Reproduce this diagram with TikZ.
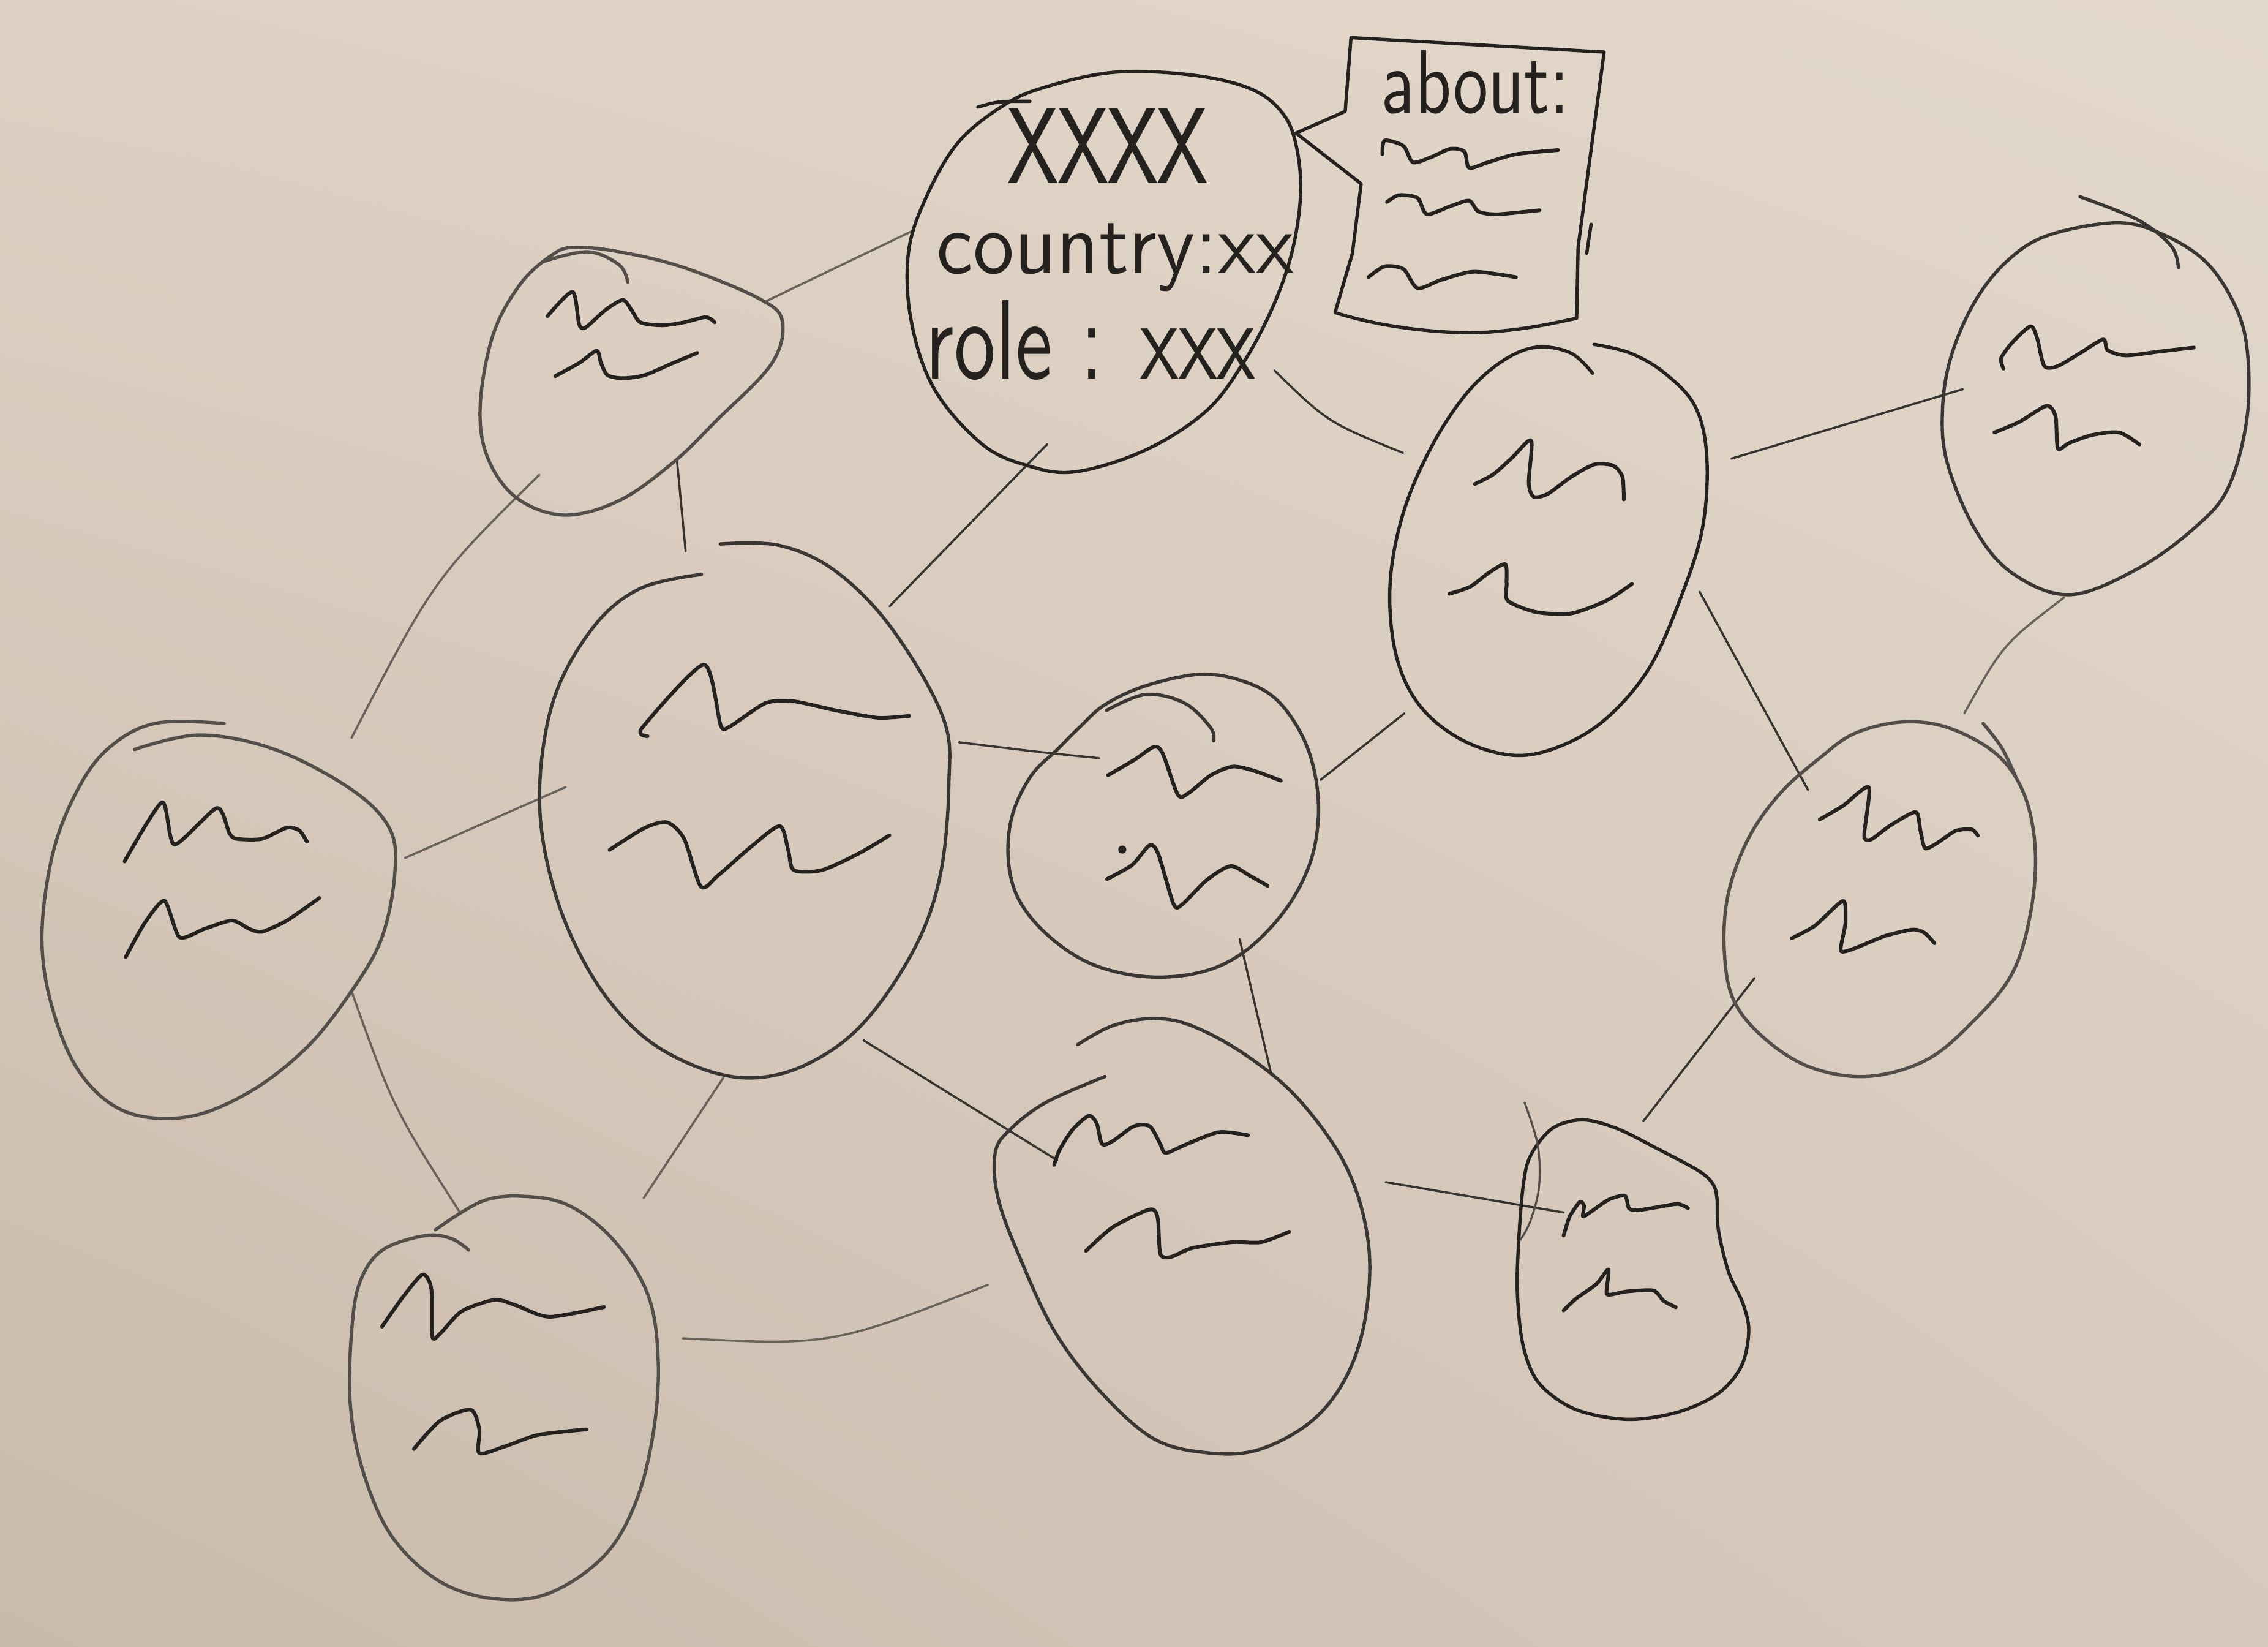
\documentclass[tikz,border=0pt]{standalone}
\usepackage{fontspec}
\setmainfont{Liberation Sans}
\usetikzlibrary{calc,shapes.geometric,shadings}
\definecolor{paperUL}{RGB}{222,209,195}
\definecolor{paperUR}{RGB}{227,216,204}
\definecolor{paperLL}{RGB}{201,186,171}
\definecolor{paperLR}{RGB}{215,202,189}
\definecolor{inkdark}{RGB}{36,33,31}
\definecolor{inkmid}{RGB}{58,54,51}
\definecolor{inklight}{RGB}{84,78,74}
\definecolor{edgedarkc}{RGB}{55,51,48}
\definecolor{edgelightc}{RGB}{105,97,91}
\begin{document}
\begin{tikzpicture}[x=0.02cm,y=-0.02cm,
  outl/.style={draw=#1, line width=1.3pt, line cap=round, line join=round},
  squig/.style={draw=inkdark, line width=1.45pt, line cap=round, line join=round},
  edgeline/.style={draw=#1, line width=0.85pt, line cap=round},
  hub/.style={ellipse, inner sep=0pt, draw=none},
  hand/.style={inner sep=0pt, text=inkdark, font=\sffamily}
]
\shade[upper left=paperUL, upper right=paperUR, lower left=paperLL, lower right=paperLR] (0,0) rectangle (1568,1138);
\useasboundingbox (0,0) rectangle (1568,1138);

% ---------- hub nodes (names for connectors) ----------
\node[hub, minimum width=5.3cm, minimum height=5.5cm] (n1) at (763,188) {};
\node[hub, minimum width=4.2cm, minimum height=3.7cm] (n3) at (437,265) {};
\node[hub, minimum width=5.7cm, minimum height=7.4cm] (n4) at (513,560) {};
\node[hub, minimum width=4.9cm, minimum height=5.6cm] (n5) at (150,637) {};
\node[hub, minimum width=4.3cm, minimum height=5.6cm] (n6) at (348,965) {};
\node[hub, minimum width=4.3cm, minimum height=4.2cm] (n7) at (803,570) {};
\node[hub, minimum width=5.1cm, minimum height=6.0cm] (n8) at (815,855) {};
\node[hub, minimum width=4.4cm, minimum height=5.6cm] (n9) at (1070,380) {};
\node[hub, minimum width=4.3cm, minimum height=5.2cm] (n10) at (1447,282) {};
\node[hub, minimum width=4.3cm, minimum height=4.9cm] (n11) at (1298,620) {};
\node[hub, minimum width=3.2cm, minimum height=4.1cm] (n12) at (1128,877) {};
\node[hub, minimum width=3.5cm, minimum height=4.0cm] (aboutbox) at (1015,128) {};

% ---------- connectors ----------
\draw[edgeline=edgelightc] ($(n3)+(93,-57)$) -- ($(n1)+(-133,-28)$);
\draw[edgeline=edgedarkc] ($(n3)+(31,53)$) -- ($(n4)+(-39,-179)$);
\draw[edgeline=edgelightc] ($(n3)+(-64,63)$) .. controls (300,400) .. ($(n5)+(93,-127)$);
\draw[edgeline=edgedarkc] ($(n1)+(-39,119)$) -- ($(n4)+(102,-141)$);
\draw[edgeline=edgedarkc] ($(n1)+(118,68)$) .. controls (918,292) .. ($(n9)+(-100,-67)$);
\draw[edgeline=edgelightc] ($(n4)+(-122,-16)$) -- ($(n5)+(130,-44)$);
\draw[edgeline=edgedarkc] ($(n4)+(150,-47)$) .. controls (720,520) .. ($(n7)+(-43,-46)$);
\draw[edgeline=edgedarkc] ($(n4)+(84,159)$) -- ($(n8)+(-84,-53)$);
\draw[edgeline=edgelightc] ($(n4)+(-13,185)$) -- ($(n6)+(97,-137)$);
\draw[edgeline=edgelightc] ($(n5)+(93,48)$) .. controls (272,766) .. ($(n6)+(-30,-127)$);
\draw[edgeline=edgelightc] ($(n6)+(124,-40)$) .. controls (575,930) .. ($(n8)+(-132,33)$);
\draw[edgeline=edgedarkc] ($(n7)+(110,-31)$) -- ($(n9)+(-99,113)$);
\draw[edgeline=edgedarkc] ($(n7)+(54,79)$) -- ($(n8)+(64,-112)$);
\draw[edgeline=edgedarkc] ($(n8)+(143,-38)$) -- ($(n12)+(-47,-39)$);
\draw[edgeline=edgedarkc] ($(n9)+(127,-63)$) -- ($(n10)+(-90,-13)$);
\draw[edgeline=edgedarkc] ($(n9)+(105,29)$) -- ($(n11)+(-48,-74)$);
\draw[edgeline=edgelightc] ($(n10)+(-20,131)$) .. controls (1385,445) .. ($(n11)+(60,-127)$);
\draw[edgeline=edgedarkc] ($(n11)+(-85,56)$) -- ($(n12)+(8,-102)$);

% ---------- node 1 (profile) ----------
\draw[outl=inkdark] plot[smooth cycle, tension=0.6] coordinates {(720,61)(770,50)(825,52)(866,62)(888,80)(897,105)(899,137)(893,175)(880,212)(860,250)(834,284)(792,311)(744,326)(711,322)(679,307)(646,269)(630,222)(628,175)(640,137)(662,99)(692,74)};
\draw[outl=inkdark] (676,74) .. controls (690,70) .. (712,70);
\node[hand] (t1) at (766,101) {\resizebox{2.76cm}{1.04cm}{xxxx}};
\node[hand] (t2) at (771,178) {\resizebox*{4.94cm}{0.94cm}{country:xx}};
\node[hand] (t3) at (754,235) {\resizebox*{4.56cm}{1.1cm}{role : xxx}};

% ---------- about box ----------
\coordinate (ptip) at (896,92);
\draw[outl=inkdark] (1090,220) -- (1091,171) -- (1109,36) -- (934,26) -- (930,77) -- (ptip) -- (941,127) -- (935,175) -- (923,216) .. controls (960,228) and (1010,232) .. (1035,229) .. controls (1060,227) and (1080,222) .. (1090,220);
\draw[outl=inkdark] (1100,155) -- (1097,175);
\node[hand] (t4) at (1020,57) {\resizebox*{2.6cm}{0.88cm}{about:}};
\draw[squig] plot[smooth,tension=0.45] coordinates {(955.7,106.6)(957.3,97.1)(970.3,100.9)(976.8,112.2)(989.7,108.5)(1002.7,102.8)(1012.4,104.7)(1015.7,116.0)(1028.6,112.2)(1048.1,106.6)(1077.2,103.7)};
\draw[squig] plot[smooth,tension=0.45] coordinates {(958.9,139.6)(967.1,134.9)(980.0,136.8)(986.5,148.1)(1002.7,142.5)(1015.7,138.7)(1022.1,146.2)(1035.1,148.1)(1064.3,145.3)};
\draw[squig] plot[smooth,tension=0.45] coordinates {(946.0,191.6)(957.3,184.1)(970.3,186.0)(980.0,199.2)(996.2,193.5)(1018.9,187.8)(1048.1,191.6)};

% ---------- node 3 ----------
\draw[outl=inklight] plot[smooth cycle, tension=0.6] coordinates {(397,171)(428,174)(473,185)(526,207)(541,223)(533,252)(496,290)(465,320)(428,346)(390,356)(357,344)(337,316)(332,280)(341,231)(360,196)(382,176)};
\draw[outl=inklight] plot[smooth, tension=0.6] coordinates {(375,181)(406,174)(428,183)(434,195)};
\draw[squig] plot[smooth,tension=0.45] coordinates {(378.5,218.5)(395.8,201.7)(400.4,224.2)(404.9,226.3)(418.5,214.3)(430.6,207.3)(436.6,214.3)(442.7,222.8)(457.8,224.9)(472.9,222.8)(488.0,219.2)(494.1,222.8)};
\draw[squig] plot[smooth,tension=0.45] coordinates {(383.8,260.0)(400.4,250.9)(412.5,242.4)(415.5,250.9)(420.0,259.3)(430.6,261.4)(445.7,259.3)(465.3,250.9)(482.0,243.9)};

% ---------- node 4 ----------
\draw[outl=inkmid] plot[smooth, tension=0.6] coordinates {(498,376)(539,377)(578,395)(617,435)(652,496)(656,542)(650,605)(632,656)(597,707)(559,735)(520,745)(481,737)(442,714)(409,674)(384,618)(373,554)(382,486)(409,435)(442,407)(485,397)};
\draw[squig] plot[smooth,tension=0.4] coordinates {(447.7,508.8)(443.8,503.2)(486.6,459.3)(498.2,501.2)(504.1,502.4)(529.3,485.9)(548.8,484.7)(577.9,491.0)(607.1,496.1)(628.5,494.8)};
\draw[squig] plot[smooth,tension=0.45] coordinates {(421.4,587.4)(445.7,572.2)(461.3,568.4)(473.0,579.8)(484.6,612.8)(496.3,605.2)(519.6,584.9)(539.1,570.9)(544.9,587.4)(548.8,601.4)(568.2,601.4)(593.5,590.0)(614.9,577.3)};

% ---------- node 5 ----------
\draw[outl=inklight] plot[smooth, tension=0.6] coordinates {(93,518)(138,508)(190,518)(242,545)(269,572)(273,603)(264,648)(243,685)(212,724)(172,755)(129,772)(86,768)(55,741)(36,696)(29,648)(36,592)(52,549)(74,518)(107,500)(155,500)};
\draw[squig] plot[smooth,tension=0.4] coordinates {(86.1,595.4)(112.0,554.5)(120.6,583.7)(150.0,558.4)(158.6,575.9)(163.8,579.8)(181.1,579.8)(198.4,572.0)(207.0,574.0)(212.2,581.7)};
\draw[squig] plot[smooth,tension=0.4] coordinates {(86.9,661.5)(99.9,638.1)(113.7,622.6)(124.1,647.8)(141.3,642.0)(160.4,636.2)(172.4,642.0)(181.1,644.0)(198.4,636.2)(220.8,620.6)};

% ---------- node 6 ----------
\draw[outl=inklight] plot[smooth, tension=0.6] coordinates {(301,850)(334,830)(365,827)(395,834)(425,858)(448,895)(455,939)(452,988)(440,1037)(418,1075)(380,1101)(342,1105)(304,1093)(271,1062)(251,1017)(242,968)(244,910)(251,881)(266,863)(294,854)(312,856)(324,864)};
\draw[squig] plot[smooth,tension=0.45] coordinates {(264.1,916.9)(278.5,896.5)(292.1,880.9)(298.2,890.7)(298.9,923.7)(304.2,921.8)(319.3,906.2)(342.0,898.4)(357.1,902.3)(379.8,910.1)(417.6,903.3)};
\draw[squig] plot[smooth,tension=0.45] coordinates {(286.1,1001.5)(304.2,982.0)(325.4,974.3)(331.4,987.9)(331.4,1004.4)(349.6,999.5)(372.2,991.7)(405.5,987.9)};

% ---------- node 7 ----------
\draw[outl=inkmid] plot[smooth cycle, tension=0.6] coordinates {(764,487)(792,474)(830,466)(860,471)(883,484)(901,510)(910,540)(911,571)(904,601)(887,631)(860,658)(830,672)(792,675)(754,666)(724,646)(704,621)(697,593)(700,563)(713,536)(731,518)(746,503)};
\draw[outl=inkmid] plot[smooth, tension=0.6] coordinates {(765,491)(792,480)(819,486)(837,503)(839,512)};
\draw[squig] plot[smooth,tension=0.45] coordinates {(766.0,535.8)(784.2,525.2)(797.8,516.2)(803.8,520.7)(814.4,549.4)(822.0,547.9)(837.1,535.8)(852.2,529.8)(867.3,532.8)(885.5,539.6)};
\fill[inkdark] (775.9,587.2) circle (1.6pt);
\draw[squig] plot[smooth,tension=0.45] coordinates {(765.3,607.6)(782.7,597.8)(794.8,584.2)(800.8,590.3)(811.4,625.0)(817.4,625.0)(834.1,608.4)(850.7,598.6)(864.3,605.4)(876.4,612.2)};

% ---------- node 8 ----------
\draw[outl=inkmid] plot[smooth, tension=0.6] coordinates {(745,722)(769,709)(797,704)(824,709)(861,729)(898,760)(931,807)(946,859)(944,910)(931,951)(907,982)(870,1002)(834,1004)(797,994)(760,961)(729,920)(705,869)(690,828)(688,797)(698,781)(723,762)(764,744)};
\draw[squig] plot[smooth,tension=0.45] coordinates {(728.8,805.1)(732.5,794.8)(741.7,780.5)(752.7,771.2)(758.2,776.4)(761.9,790.7)(769.2,788.7)(783.9,778.4)(794.9,778.4)(802.2,790.7)(805.9,796.9)(820.6,790.7)(842.6,782.5)(862.8,784.6)};
\draw[squig] plot[smooth,tension=0.45] coordinates {(750.8,864.6)(769.2,848.2)(794.9,835.9)(800.4,842.0)(802.2,866.7)(809.6,868.7)(824.3,862.6)(851.8,858.5)(872.0,858.5)(891.3,851.3)};

% ---------- node 9 ----------
\draw[outl=inkdark] plot[smooth, tension=0.6] coordinates {(1101,258)(1086,244)(1062,240)(1038,250)(1013,273)(989,310)(970,355)(961,404)(965,452)(981,487)(1010,511)(1046,522)(1078,516)(1110,497)(1140,462)(1162,413)(1177,365)(1180,316)(1172,281)(1151,258)(1127,244)(1102,238)};
\draw[squig] plot[smooth,tension=0.45] coordinates {(1019.7,334.5)(1032.6,327.7)(1045.6,316.1)(1058.6,304.4)(1056.9,333.6)(1060.2,343.3)(1069.9,341.4)(1086.1,329.7)(1102.3,321.0)(1115.3,321.9)(1121.7,329.7)(1122.6,345.2)};
\draw[squig] plot[smooth,tension=0.45] coordinates {(1001.9,410.4)(1016.4,405.5)(1029.4,395.8)(1040.7,390.0)(1041.6,403.6)(1042.4,415.2)(1061.8,423.0)(1086.1,424.0)(1110.4,415.2)(1128.2,403.6)};

% ---------- node 10 ----------
\draw[outl=inkmid] plot[smooth cycle, tension=0.6] coordinates {(1415,163)(1462,154)(1493,161)(1525,181)(1546,213)(1554,246)(1553,292)(1540,338)(1517,365)(1478,393)(1431,411)(1391,396)(1365,365)(1346,319)(1343,282)(1349,246)(1365,209)(1387,181)};
\draw[outl=inkmid] plot[smooth, tension=0.6] coordinates {(1438,136)(1478,152)(1501,170)(1506,185)};
\draw[squig] plot[smooth,tension=0.45] coordinates {(1385.1,254.8)(1383.5,247.5)(1391.4,236.5)(1403.9,225.5)(1408.6,234.6)(1413.3,253.0)(1422.7,253.0)(1438.4,243.8)(1454.0,234.6)(1457.1,242.0)(1469.7,245.7)(1493.2,242.9)(1516.7,240.2)};
\draw[squig] plot[smooth,tension=0.45] coordinates {(1378.8,298.9)(1396.1,291.6)(1414.9,280.5)(1421.1,287.9)(1422.7,309.9)(1430.5,306.2)(1446.2,300.7)(1465.0,298.9)(1479.1,307.2)};

% ---------- node 11 ----------
\draw[outl=inklight] plot[smooth cycle, tension=0.6] coordinates {(1315,499)(1347,503)(1380,521)(1399,548)(1407,586)(1404,630)(1391,673)(1363,707)(1331,733)(1290,744)(1250,737)(1218,716)(1198,690)(1192,655)(1195,617)(1209,579)(1231,548)(1258,524)(1282,507)};
\draw[outl=inklight] plot[smooth, tension=0.6] coordinates {(1371,500)(1384,517)(1394,538)};
\draw[squig] plot[smooth,tension=0.4] coordinates {(1258.0,566.4)(1274.2,556.9)(1292.0,544.0)(1288.8,577.6)(1293.6,580.2)(1306.6,570.7)(1324.4,561.2)(1327.7,574.2)(1330.9,586.3)(1339.0,582.8)(1352.0,574.2)(1363.3,573.3)(1367.4,577.6)};
\draw[squig] plot[smooth,tension=0.4] coordinates {(1238.6,648.5)(1254.8,639.8)(1274.2,622.6)(1275.8,638.1)(1272.6,657.1)(1282.3,655.4)(1303.4,646.8)(1322.8,642.4)(1330.9,645.0)(1337.4,651.9)};

% ---------- node 12 ----------
\draw[outl=inkdark] plot[smooth cycle, tension=0.55] coordinates {(1094,774)(1118,780)(1146,794)(1174,809)(1184,818)(1187,828)(1188,850)(1195,879)(1205,901)(1209,920)(1204,944)(1188,963)(1160,976)(1125,981)(1089,974)(1064,956)(1053,930)(1049,893)(1050,857)(1053,820)(1058,799)(1073,780)};
\draw[outl=inklight, line width=0.8pt] plot[smooth, tension=0.6] coordinates {(1054,762)(1063,791)(1064,820)(1058,844)(1051,857)};
\draw[squig] plot[smooth,tension=0.4] coordinates {(1081.0,854.0)(1085.2,840.8)(1092.3,830.6)(1095.1,833.5)(1094.4,840.8)(1099.3,837.9)(1112.0,829.2)(1123.3,826.3)(1126.1,835.0)(1131.8,836.5)(1145.9,834.3)(1160.0,832.1)(1167.0,835.0)};
\draw[squig] plot[smooth,tension=0.4] coordinates {(1081.0,905.7)(1089.4,897.7)(1103.6,887.5)(1112.0,877.3)(1110.6,893.3)(1113.4,894.8)(1124.7,892.6)(1143.1,891.9)(1150.1,899.1)(1158.6,903.5)};
\end{tikzpicture}
\end{document}
